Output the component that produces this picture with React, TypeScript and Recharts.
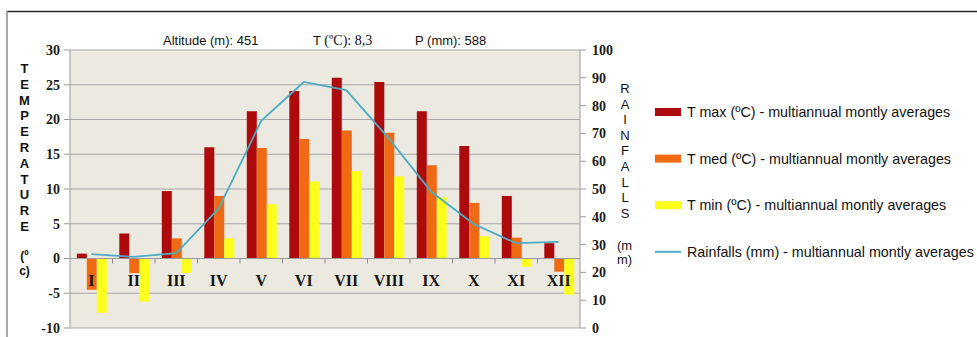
import React from 'react'
import {
  ComposedChart,
  Bar,
  Line,
  XAxis,
  YAxis,
  CartesianGrid,
  ReferenceLine,
  ReferenceDot,
} from 'recharts'

const MONTHS = ['I', 'II', 'III', 'IV', 'V', 'VI', 'VII', 'VIII', 'IX', 'X', 'XI', 'XII']
const T_MAX = [0.7, 3.6, 9.7, 16.0, 21.2, 24.1, 26.0, 25.4, 21.2, 16.2, 9.0, 2.2]
const T_MED = [-4.5, -2.1, 2.9, 9.0, 15.9, 17.2, 18.4, 18.1, 13.4, 8.0, 3.0, -1.9]
const T_MIN = [-7.8, -6.2, -2.1, 2.9, 7.8, 11.1, 12.6, 11.8, 8.8, 3.2, -1.2, -5.2]
const RAINFALL = [26.6, 25.6, 26.9, 43.0, 74.5, 88.5, 85.6, 68.2, 49.0, 37.4, 30.5, 31.0]

const TEMP_TICKS = [-10, -5, 0, 5, 10, 15, 20, 25, 30]
const RAIN_TICKS = [0, 10, 20, 30, 40, 50, 60, 70, 80, 90, 100]

const SERIES = [
  { key: 'tmax', name: 'T max (ºC) - multiannual montly averages', color: '#AD0B0B', kind: 'bar' },
  { key: 'tmed', name: 'T med (ºC) - multiannual montly averages', color: '#F06A14', kind: 'bar' },
  { key: 'tmin', name: 'T min (ºC) - multiannual montly averages', color: '#FFFF1E', kind: 'bar' },
  { key: 'rain', name: 'Rainfalls (mm) - multiannual montly averages', color: '#4BACC6', kind: 'line' },
]

const data = MONTHS.map((month, i) => ({
  month,
  tmax: T_MAX[i],
  tmed: T_MED[i],
  tmin: T_MIN[i],
  rain: RAINFALL[i],
}))

const W = 977
const H = 337
const PLOT_LEFT = 70
const PLOT_RIGHT = 580
const HALF_BAND = (PLOT_RIGHT - PLOT_LEFT) / MONTHS.length / 2

const SANS = '"Liberation Sans", Arial, sans-serif'
const SERIF = '"Liberation Serif", "Times New Roman", serif'
const tickStyle = { fontFamily: SERIF, fontWeight: 700, fontSize: 14, fill: '#1a1a1a' }

function MonthLabel(props: any) {
  const { cx, cy, label, last } = props
  return (
    <g>
      {!last && (
        <line x1={cx + HALF_BAND} x2={cx + HALF_BAND} y1={cy} y2={cy + 5} stroke="#8f8f8f" />
      )}
      <text
        x={cx}
        y={cy + 27}
        textAnchor="middle"
        fontFamily={SERIF}
        fontWeight={700}
        fontSize={16}
        fill="#151515"
      >
        {label}
      </text>
    </g>
  )
}

const TEMP_TITLE = ['T', 'E', 'M', 'P', 'E', 'R', 'A', 'T', 'U', 'R', 'E']
const RAIN_TITLE = ['R', 'A', 'I', 'N', 'F', 'A', 'L', 'L', 'S']

export default function App() {
  return (
    <div style={{ position: 'absolute', left: 0, top: 0, width: W, height: H, background: '#fff' }}>
      <ComposedChart
        width={W}
        height={H}
        data={data}
        margin={{ top: 50, right: 0, bottom: 9, left: 0 }}
        barGap={0}
        barCategoryGap="16%"
      >
        <CartesianGrid yAxisId="left" vertical={false} stroke="#a8a8a8" fill="#ECE9E1" />
        <XAxis dataKey="month" hide />
        <YAxis
          yAxisId="left"
          width={PLOT_LEFT}
          domain={[-10, 30]}
          ticks={TEMP_TICKS}
          interval={0}
          tickSize={6}
          tickMargin={4}
          tickLine={{ stroke: '#9a9a9a' }}
          axisLine={{ stroke: '#9a9a9a' }}
          tick={tickStyle}
        />
        <YAxis
          yAxisId="right"
          orientation="right"
          width={W - PLOT_RIGHT}
          domain={[0, 100]}
          ticks={RAIN_TICKS}
          interval={0}
          tickSize={6}
          tickMargin={6}
          tickLine={{ stroke: '#9a9a9a' }}
          axisLine={{ stroke: '#9a9a9a' }}
          tick={tickStyle}
        />
        {SERIES.filter((s) => s.kind === 'bar').map((s) => (
          <Bar
            key={s.key}
            yAxisId="left"
            dataKey={s.key}
            name={s.name}
            fill={s.color}
            isAnimationActive={false}
          />
        ))}
        <ReferenceLine yAxisId="left" y={0} stroke="#9a9a9a" />
        {MONTHS.map((m, i) => (
          <ReferenceDot
            key={m}
            yAxisId="left"
            x={m}
            y={0}
            r={0}
            shape={(p: any) => <MonthLabel {...p} label={m} last={i === MONTHS.length - 1} />}
          />
        ))}
        <Line
          yAxisId="right"
          type="linear"
          dataKey="rain"
          name={SERIES[3].name}
          stroke={SERIES[3].color}
          strokeWidth={1.8}
          dot={false}
          isAnimationActive={false}
        />
      </ComposedChart>

      <svg
        width={W}
        height={H}
        style={{ position: 'absolute', left: 0, top: 0, pointerEvents: 'none' }}
      >
        <line x1={7} x2={W} y1={11.5} y2={11.5} stroke="#2a2a2a" strokeWidth={1.5} />
        <line x1={7} x2={7} y1={11} y2={H} stroke="#8a8a8a" strokeWidth={1.5} />

        <text x={163} y={44.5} fontFamily={SANS} fontSize={13} fill="#111">
          Altitude (m): 451
        </text>
        <text x={313} y={44.5} fontFamily={SANS} fontSize={13} fill="#111">
          T <tspan fontFamily={SERIF} fontSize={14}>(ºC): 8,3</tspan>
        </text>
        <text x={415} y={44.5} fontFamily={SANS} fontSize={13} fill="#111">
          P (mm): 588
        </text>

        {TEMP_TITLE.map((ch, i) => (
          <text
            key={i}
            x={24.5}
            y={73 + i * 15.8}
            textAnchor="middle"
            fontFamily={SANS}
            fontWeight={700}
            fontSize={13}
            fill="#111"
          >
            {ch}
          </text>
        ))}
        <text x={24.5} y={260} textAnchor="middle" fontFamily={SANS} fontWeight={700} fontSize={12} fill="#111">
          (º
        </text>
        <text x={24.5} y={274.5} textAnchor="middle" fontFamily={SANS} fontWeight={700} fontSize={12} fill="#111">
          c)
        </text>

        {RAIN_TITLE.map((ch, i) => (
          <text
            key={i}
            x={625}
            y={93 + i * 15.6}
            textAnchor="middle"
            fontFamily={SANS}
            fontSize={13}
            fill="#111"
          >
            {ch}
          </text>
        ))}
        <text x={617} y={249.5} fontFamily={SANS} fontSize={13} fill="#111">
          (m
        </text>
        <text x={617} y={264} fontFamily={SANS} fontSize={13} fill="#111">
          m)
        </text>

        {SERIES.map((s, i) => {
          const cy = 112 + i * 46.6
          return (
            <g key={s.key}>
              {s.kind === 'bar' ? (
                <rect x={655} y={cy - 4} width={26} height={8} fill={s.color} />
              ) : (
                <line x1={655} x2={681} y1={cy} y2={cy} stroke={s.color} strokeWidth={2} />
              )}
              <text x={687} y={cy + 5} fontFamily={SANS} fontSize={14.3} fill="#111">
                {s.name}
              </text>
            </g>
          )
        })}
      </svg>
    </div>
  )
}
